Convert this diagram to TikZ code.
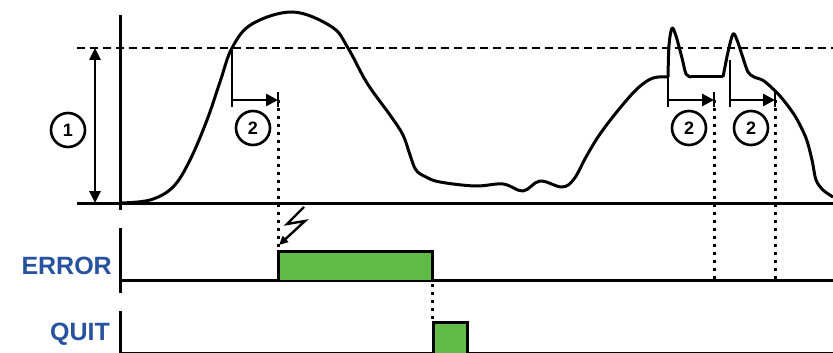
\documentclass[tikz,border=0pt]{standalone}
\usepackage{fontspec}
\setmainfont{Liberation Sans}
\usetikzlibrary{arrows.meta}
\definecolor{lblblue}{RGB}{38,82,160}
\definecolor{sigreen}{RGB}{98,187,70}
\tikzset{
  axisline/.style={line width=3pt},
  sigcurve/.style={line width=3pt, line join=round},
  dashref/.style={line width=2.8pt, dash pattern=on 8pt off 5pt},
  dotline/.style={line width=3pt, dash pattern=on 3pt off 5pt},
  numcircle/.style={circle, draw, line width=2.6pt, minimum size=34pt, inner sep=0pt, font=\bfseries\fontsize{18}{18}\selectfont},
  markline/.style={line width=2.8pt},
  markarrow/.style={line width=2.8pt, -{Triangle[length=12pt,width=12pt]}},
  lbl/.style={font=\bfseries\fontsize{25}{25}\selectfont, text=lblblue, inner sep=0pt},
  pulse/.style={draw, line width=3pt, fill=sigreen}
}
\begin{document}
\begin{tikzpicture}[x=1pt,y=-1pt]
\useasboundingbox (0,0) rectangle (833,353);
% ---- top graph axes
\coordinate (yTop) at (120,15);
\coordinate (yBot) at (120,210);
\coordinate (bL) at (77,203);
\coordinate (bR) at (833,203);
\coordinate (dL) at (77,48);
\coordinate (dR) at (833,48);
\draw[axisline] (yTop) -- (yBot);
\draw[axisline] (bL) -- (bR);
\draw[dashref] (dL) -- (dR);
% amplitude arrow
\coordinate (aTop) at (95,48);
\coordinate (aBot) at (95,203);
\draw[line width=2.8pt, {Triangle[length=12pt,width=11pt]}-{Triangle[length=12pt,width=11pt]}] (aTop) -- (aBot);
\node[numcircle] (c1) at (68,130) {1};
% ---- signal curve
\draw[sigcurve] plot[smooth, tension=0.6] coordinates {
 (120,203) (150,200) (173,187) (190,160) (207,120) (220,82) (232,48)
 (252,24) (293,12) (332,27) (348,48) (367,83)
 (390,115) (403,135) (410,155) (416,170) (426,177) (440,182) (475,186)
 (503,184) (523,191) (540,181) (562,187) (574,179) (586,157) (600,134)
 (620,108) (638,88) (653,78) (668,77)};
\draw[sigcurve] plot[smooth, tension=0.5] coordinates {
 (668,77) (669,45) (672,28) (676,36) (682,58) (686,74) (691,77)};
\draw[sigcurve] (691,77) -- (723,77);
\draw[sigcurve] plot[smooth, tension=0.5] coordinates {
 (723,77) (728,52) (733,34) (737,40) (743,58) (748,72) (754,77)
 (764,81) (780,96) (795,116) (806,138) (812,160) (816,180) (823,190) (833,197)};
% ---- delay markers
\coordinate (m1s) at (232,48);
\coordinate (m1b) at (232,107);
\coordinate (m1a) at (232,100);
\coordinate (m1e) at (278,100);
\draw[markline] (m1s) -- (m1b);
\draw[markarrow] (m1a) -- (m1e);
\draw[markline] (278,92) -- (278,107);
\node[numcircle] (c2a) at (253,128) {2};

\coordinate (m2s) at (668,77);
\coordinate (m2b) at (668,107);
\coordinate (m2a) at (668,100);
\coordinate (m2e) at (714,100);
\draw[markline] (m2s) -- (m2b);
\draw[markarrow] (m2a) -- (m2e);
\draw[markline] (714,92) -- (714,107);
\node[numcircle] (c2b) at (689,128) {2};

\coordinate (m3s) at (730,60);
\coordinate (m3b) at (730,107);
\coordinate (m3a) at (730,100);
\coordinate (m3e) at (775,100);
\draw[markline] (m3s) -- (m3b);
\draw[markarrow] (m3a) -- (m3e);
\draw[markline] (775,92) -- (775,107);
\node[numcircle] (c2c) at (751,128) {2};
% ---- ERROR track
\draw[axisline] (120,228) -- (120,293);
\draw[axisline] (120,280) -- (833,280);
\node[lbl, anchor=east] (err) at (112,266) {ERROR};
\draw[pulse] (278,280) -- (278,251) -- (432,251) -- (432,280);
% ---- QUIT track
\draw[axisline] (120,311) -- (120,353);
\draw[line width=2pt] (120,352.5) -- (833,352.5);
\node[lbl, anchor=east] (quit) at (110,334) {QUIT};
\draw[pulse] (433,353) -- (433,322) -- (467,322) -- (467,353);
% ---- dotted links
\draw[dotline] (m1e) -- (278,250);
\draw[dotline] (m2e) -- (714,279);
\draw[dotline] (m3e) -- (775,279);
\draw[dotline] (432,284) -- (432,322);
% ---- lightning
\draw[line width=2.4pt, line join=miter, -{Triangle[length=9pt,width=8pt]}]
  (304,207) -- (287,224) -- (305,221) -- (279,245);
\end{tikzpicture}
\end{document}
